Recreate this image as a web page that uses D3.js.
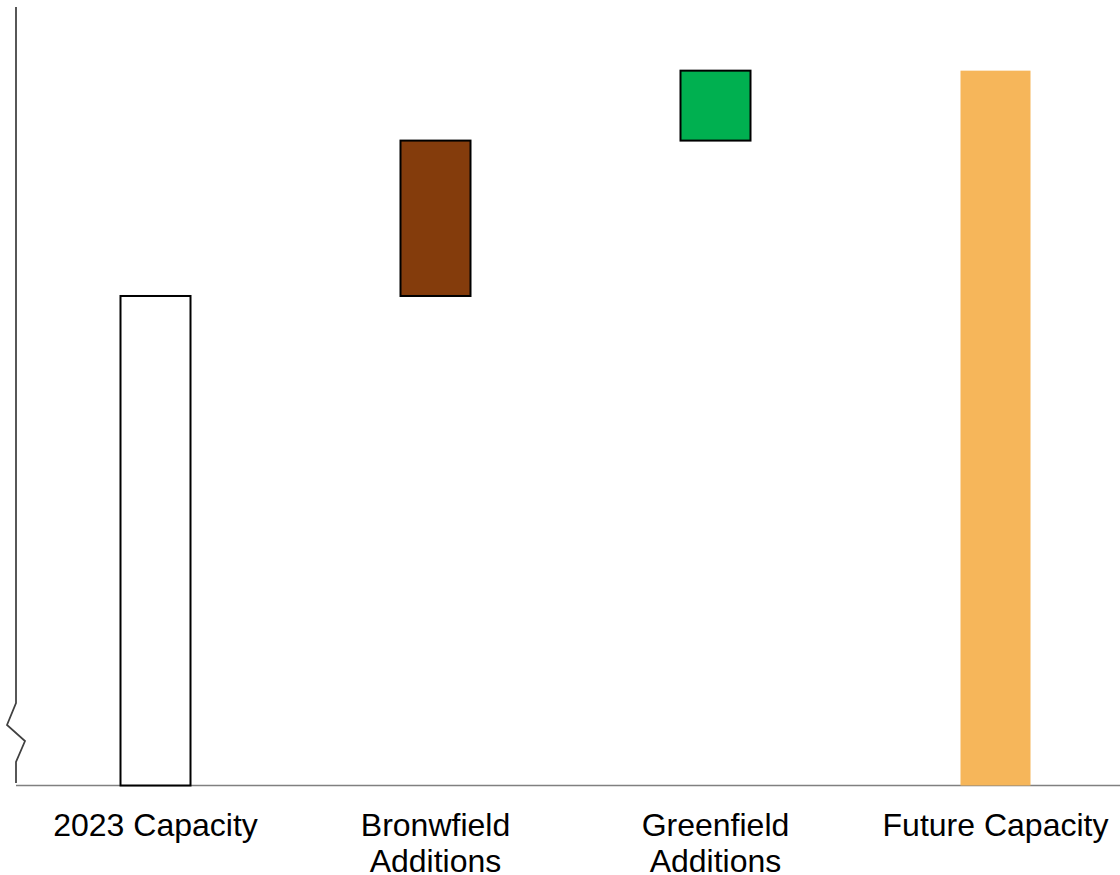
<!DOCTYPE html>
<html>
<head>
<meta charset="utf-8">
<script src="https://cdn.jsdelivr.net/npm/d3@7"></script>
<style>
  html, body { margin: 0; padding: 0; background: #fff; }
  svg { display: block; }
</style>
</head>
<body>
<svg id="chart" width="1120" height="875"></svg>
<script>
// Capacity waterfall: starting level, two additions, resulting total
const categories = ["2023 Capacity", "Bronwfield Additions", "Greenfield Additions", "Future Capacity"];
const labelLines = [["2023 Capacity"], ["Bronwfield", "Additions"], ["Greenfield", "Additions"], ["Future Capacity"]];
const steps = [6.3, 2.0, 0.9, 9.2];           // height of each bar
const kinds = ["total", "delta", "delta", "total"];
const fills = ["#ffffff", "#843c0c", "#00b050", "#f6b65a"];
const strokes = ["#000000", "#000000", "#000000", "none"];

const svg = d3.select("#chart");
const W = 1120, H = 875;
const baseY = 785.5;

const x = d3.scaleBand()
  .domain(categories)
  .range([15.5, 1135.5])
  .paddingInner(0.75)
  .paddingOuter(0.375);

const y = d3.scaleLinear().domain([0, 10]).range([baseY, 8.5]);

// Floating bars: deltas start where the running total ended
let running = 0;
const bars = categories.map((c, i) => {
  let lo, hi;
  if (kinds[i] === "total") { lo = 0; hi = steps[i]; running = steps[i]; }
  else { lo = running; hi = running + steps[i]; running = hi; }
  return { c, lo, hi, fill: fills[i], stroke: strokes[i] };
});

// Baseline (x axis)
svg.append("line")
  .attr("x1", 16).attr("x2", W)
  .attr("y1", baseY).attr("y2", baseY)
  .attr("stroke", "#808080").attr("stroke-width", 1.5);

svg.selectAll("rect.bar")
  .data(bars)
  .join("rect")
  .attr("class", "bar")
  .attr("x", d => x(d.c))
  .attr("width", x.bandwidth())
  .attr("y", d => y(d.hi))
  .attr("height", d => y(d.lo) - y(d.hi))
  .attr("fill", d => d.fill)
  .attr("stroke", d => d.stroke)
  .attr("stroke-width", 2);

// Vertical axis with a break mark near the bottom
const axisPath = d3.path();
axisPath.moveTo(16, 7);
axisPath.lineTo(16, 703);
axisPath.lineTo(7, 725);
axisPath.lineTo(25, 741);
axisPath.lineTo(16, 762);
axisPath.lineTo(16, 783);
svg.append("path")
  .attr("d", axisPath.toString())
  .attr("fill", "none")
  .attr("stroke", "#404040")
  .attr("stroke-width", 1.75);

// Category labels
const lab = svg.selectAll("text.cat")
  .data(categories)
  .join("text")
  .attr("class", "cat")
  .attr("x", d => x(d) + x.bandwidth() / 2)
  .attr("y", 835.5)
  .attr("text-anchor", "middle")
  .attr("font-family", "Liberation Sans, Arial, sans-serif")
  .attr("font-size", 32)
  .attr("fill", "#000");

lab.each(function(d, i) {
  d3.select(this).selectAll("tspan")
    .data(labelLines[i])
    .join("tspan")
    .attr("x", x(d) + x.bandwidth() / 2)
    .attr("dy", (t, j) => j === 0 ? 0 : 36)
    .text(t => t);
});
</script>
</body>
</html>
